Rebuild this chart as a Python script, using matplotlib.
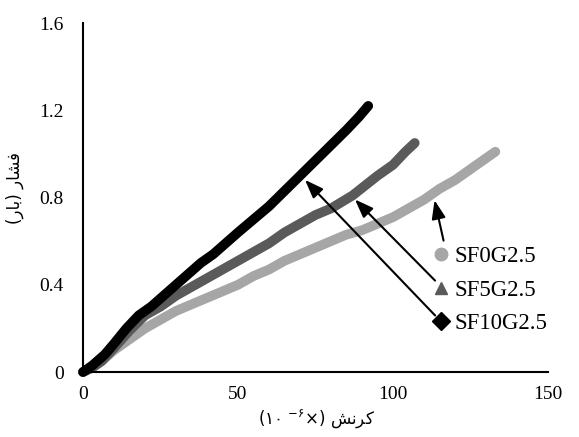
import matplotlib.pyplot as plt
from matplotlib.lines import Line2D

# strain (x1e-6) vs pressure (bar)
x_sf0 = [0, 3, 6, 10, 15, 20, 25, 30, 35, 40, 45, 50, 55, 60, 65, 70, 75, 80, 85, 90, 95,
         100, 105, 110, 115, 120, 125, 130, 133]
y_sf0 = [0, 0.02, 0.05, 0.1, 0.15, 0.2, 0.24, 0.28, 0.31, 0.34, 0.37, 0.4, 0.44, 0.47, 0.51,
         0.54, 0.57, 0.6, 0.63, 0.65, 0.68, 0.71, 0.75, 0.79, 0.84, 0.88, 0.93, 0.98, 1.01]

x_sf5 = [0, 3, 6, 10, 15, 20, 25, 30, 35, 40, 45, 50, 55, 60, 65, 70, 75, 80, 87, 95,
         100, 104, 107]
y_sf5 = [0, 0.02, 0.05, 0.11, 0.19, 0.26, 0.3, 0.35, 0.39, 0.43, 0.47, 0.51, 0.55, 0.59,
         0.64, 0.68, 0.72, 0.75, 0.81, 0.9, 0.95, 1.01, 1.05]

x_sf10 = [0, 3, 7, 10, 14, 18, 22, 26, 30, 34, 38, 42, 46, 50, 55, 60, 65, 70, 75, 80,
          85, 89, 92]
y_sf10 = [0, 0.03, 0.08, 0.13, 0.2, 0.26, 0.3, 0.35, 0.4, 0.45, 0.5, 0.54, 0.59, 0.64,
          0.7, 0.76, 0.83, 0.9, 0.97, 1.04, 1.11, 1.17, 1.22]

names = ['SF0G2.5', 'SF5G2.5', 'SF10G2.5']
colors = ['#a6a6a6', '#5a5a5a', '#000000']
markers = ['o', '^', 'D']

x_ticks = [0, 50, 100, 150]
y_ticks = [0, 0.4, 0.8, 1.2, 1.6]
y_tick_labels = ['0', '0.4', '0.8', '1.2', '1.6']

# Arabic labels written in visual order with presentation forms
ylabel = '(\uFEAD\uFE8E\uFE91) \uFEAD\uFE8E\uFEB8\uFED3'
xlabel = '(\u06F1\u06F0 $^{-\u06F6}$\u00D7) \uFEB6\uFEE7\uFEAE\uFB90'

plt.rcParams['mathtext.fontset'] = 'dejavusans'

fig = plt.figure(figsize=(5.79, 4.37), dpi=100)
ax = fig.add_axes([0.1434, 0.1487, 0.8031, 0.7986])

for xs, ys, c in [(x_sf0, y_sf0, colors[0]), (x_sf5, y_sf5, colors[1]), (x_sf10, y_sf10, colors[2])]:
    ax.plot(xs, ys, color=c, lw=7, solid_capstyle='round', solid_joinstyle='round', clip_on=False)

ax.set_xlim(0, 150)
ax.set_ylim(0, 1.6)
ax.set_xticks(x_ticks)
ax.set_yticks(y_ticks)
ax.set_yticklabels(y_tick_labels)
ax.tick_params(length=0, labelsize=14)
ax.tick_params(axis='x', pad=10)
ax.tick_params(axis='y', pad=14)
for lab in ax.get_xticklabels() + ax.get_yticklabels():
    lab.set_family('Liberation Serif')
ax.spines['top'].set_visible(False)
ax.spines['right'].set_visible(False)
ax.spines['left'].set_linewidth(1.5)
ax.spines['bottom'].set_linewidth(1.5)

# arrows
arr = dict(arrowstyle='-|>,head_length=0.8,head_width=0.3', color='black', lw=1.5, mutation_scale=14)
ax.annotate('', xy=(113.2, 0.80), xytext=(116.5, 0.59), arrowprops=arr)
ax.annotate('', xy=(87.1, 0.80), xytext=(114.2, 0.41), arrowprops=arr)
ax.annotate('', xy=(71, 0.89), xytext=(114.2, 0.25), arrowprops=arr)

handles = [Line2D([], [], color=c, marker=m, ls='none', markersize=9) for c, m in zip(colors, markers)]
ax.legend(handles, names, loc='center left', bbox_to_anchor=(0.735, 0.235), frameon=False,
          prop={'family': 'Liberation Serif', 'size': 16.5}, handlelength=0.6,
          handletextpad=0.3, labelspacing=0.55, borderaxespad=0)

ax.set_ylabel(ylabel, fontsize=12, family='DejaVu Sans')
ax.yaxis.set_label_coords(-0.127, 0.527)
fig.text(0.546, 0.039, xlabel, fontsize=12, ha='center', va='center', family='DejaVu Sans')

fig.savefig('out.png', dpi=100)
